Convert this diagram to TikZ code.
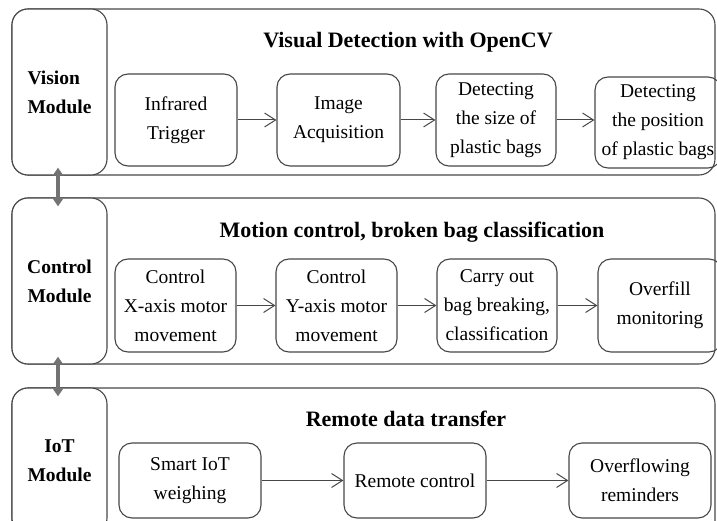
\documentclass[tikz,border=0pt]{standalone}
\usepackage{fontspec}
\setmainfont{Liberation Serif}
\usetikzlibrary{arrows.meta}
\begin{document}
\begin{tikzpicture}[x=1pt,y=-1pt,
  outline/.style={draw=black!72, line width=1.1pt},
  panel/.style={outline, rounded corners=16pt, inner sep=0pt},
  module/.style={outline, fill=white, rounded corners=16pt, minimum width=95pt,
    minimum height=166pt, inner sep=0pt,
    font=\fontsize{19.5}{29}\selectfont\bfseries},
  stepbox/.style={outline, rounded corners=13pt, inner sep=0pt, align=center,
    font=\fontsize{19.5}{29}\selectfont},
  heading/.style={font=\fontsize{22}{26}\selectfont\bfseries},
  flow/.style={draw=black!72, line width=1pt, -{Straight Barb[length=11pt,width=14pt]}},
  link/.style={draw=black!55, line width=4pt, {Triangle[width=10pt,length=8pt]}-{Triangle[width=10pt,length=8pt]},
    shorten <=-8pt, shorten >=-9pt}]
\useasboundingbox (0,0) rectangle (717,521);
\clip (0,0) rectangle (717,521);

% three layers of the system
\node[panel, minimum width=703pt, minimum height=166pt] (p1) at (363.5,92) {};
\node[panel, minimum width=703pt, minimum height=166pt] (p2) at (363.5,281) {};
\node[panel, minimum width=703pt, minimum height=166pt] (p3) at (363.5,471) {};

\node[module, align=left] (m1) at (59.5,92) {Vision\\Module};
\node[module, align=center] (m2) at (59.5,281) {Control\\Module};
\node[module, align=center, minimum height=146pt] (m3) at (59.5,461) {IoT\\Module};

\node[heading] (t1) at (408,42) {Visual Detection with OpenCV};
\node[heading] (t2) at (412,232) {Motion control, broken bag classification};
\node[heading] (t3) at (406,419) {Remote data transfer};

% vision steps
\node[stepbox, minimum width=122pt, minimum height=92pt] (a1) at (176,120) {Infrared\\Trigger};
\node[stepbox, minimum width=123pt, minimum height=92pt] (a2) at (338.5,120) {Image\\Acquisition};
\node[stepbox, minimum width=120pt, minimum height=92pt] (a3) at (496,120) {Detecting\\the size of\\plastic bags};
\node[stepbox, minimum width=126pt, minimum height=91pt] (a4) at (658,122.5) {Detecting\\the position\\of plastic bags};

% control steps
\node[stepbox, minimum width=121pt, minimum height=93pt] (b1) at (175.5,305.5) {Control\\X-axis motor\\movement};
\node[stepbox, minimum width=121pt, minimum height=93pt] (b2) at (336.5,305.5) {Control\\Y-axis motor\\movement};
\node[stepbox, minimum width=120pt, minimum height=93pt] (b3) at (497,305.5) {Carry out\\bag breaking,\\classification};
\node[stepbox, minimum width=124pt, minimum height=93pt] (b4) at (660,305.5) {Overfill\\monitoring};

% IoT steps
\node[stepbox, minimum width=142pt, minimum height=75pt] (c1) at (190,480.5) {Smart IoT\\weighing};
\node[stepbox, minimum width=142pt, minimum height=75pt] (c2) at (415,480.5) {Remote control};
\node[stepbox, minimum width=142pt, minimum height=75pt] (c3) at (640,480.5) {Overflowing\\reminders};

\draw[flow] (a1) -- (a2);
\draw[flow] (a2) -- (a3);
\draw[flow] (a3) -- (a4.west |- a3);
\draw[flow] (b1) -- (b2);
\draw[flow] (b2) -- (b3);
\draw[flow] (b3) -- (b4);
\draw[flow] (c1) -- (c2);
\draw[flow] (c2) -- (c3);

% links between the modules
\draw[link] ([xshift=-1.5pt]m1.south) -- ([xshift=-1.5pt]m2.north);
\draw[link] ([xshift=-1.5pt]m2.south) -- ([xshift=-1.5pt]m3.north);
\end{tikzpicture}
\end{document}
